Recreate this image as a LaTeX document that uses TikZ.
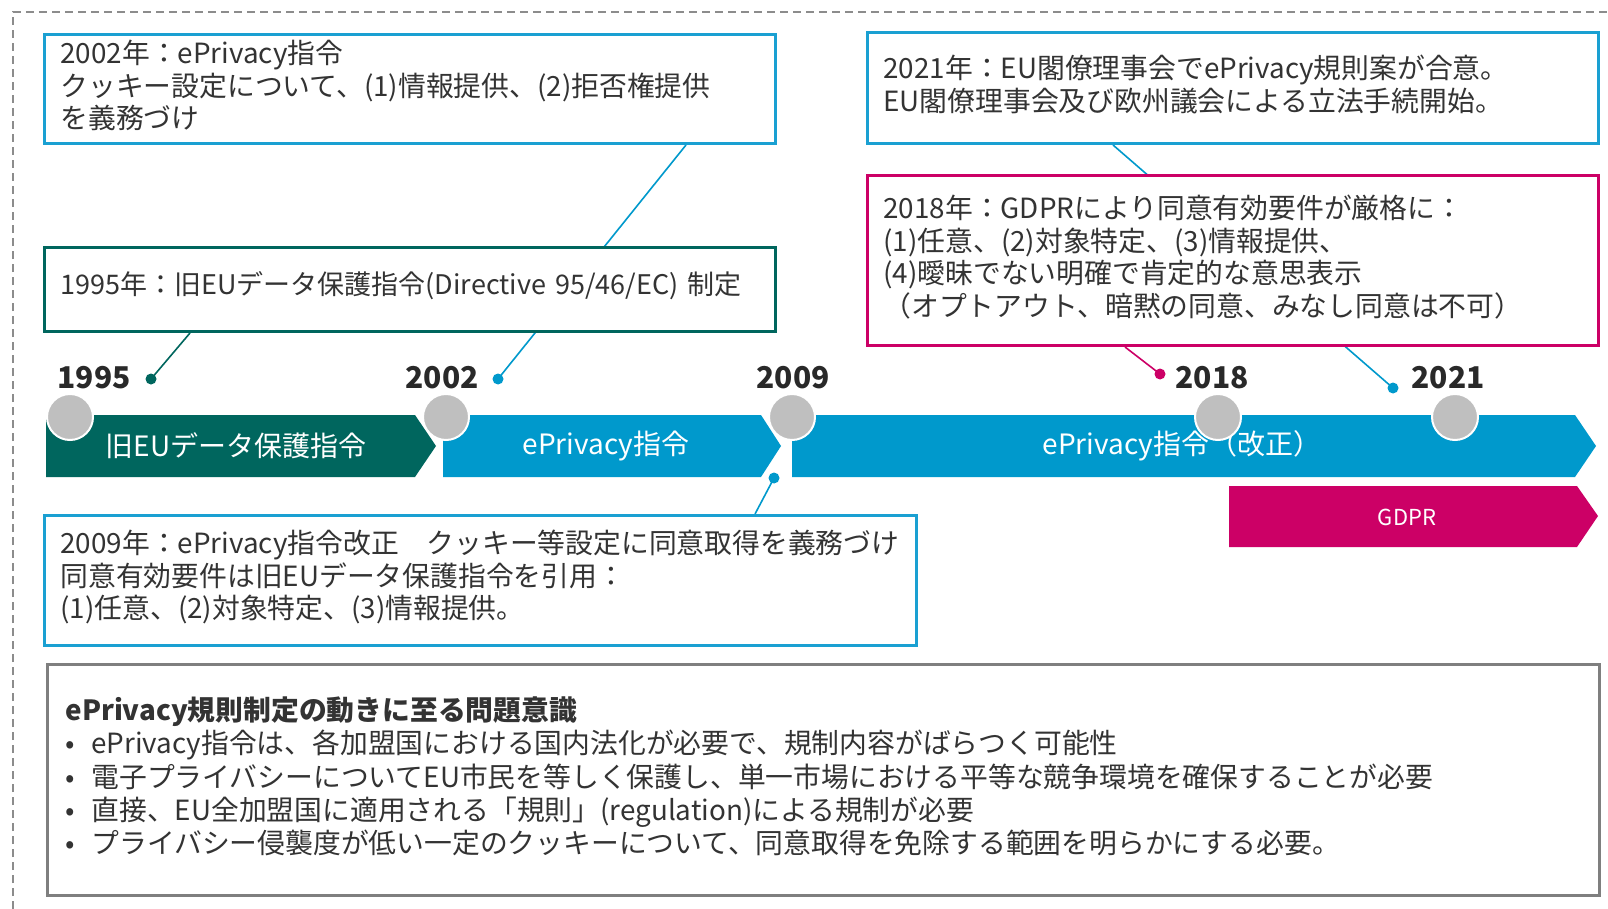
\documentclass[tikz,border=0pt]{standalone}
\usepackage{fontspec}
\setmainfont{Noto Sans CJK JP}
\usetikzlibrary{calc}
\definecolor{tealc}{HTML}{00665E}
\definecolor{bluec}{HTML}{0099CC}
\definecolor{blueb}{HTML}{1AA0D2}
\definecolor{magc}{HTML}{CC0066}
\definecolor{circc}{HTML}{BFBFBF}
\definecolor{txtc}{HTML}{333333}
\definecolor{framec}{HTML}{8C8C8C}
\definecolor{boxgray}{HTML}{7F7F7F}
\newcommand{\liftup}{\par\vspace*{7pt}}
\pgfdeclarelayer{bg}
\pgfdeclarelayer{bgbottom}
\pgfsetlayers{bgbottom,bg,main}
\begin{document}
\begin{tikzpicture}[x=1pt,y=-1pt,
  infobox/.style={draw, line width=3pt, fill=white, text=txtc,
    font=\fontsize{27.8}{32.5}\selectfont, align=left, inner xsep=16pt, inner ysep=0pt,
    anchor=north west},
  conn/.style={line width=1.6pt},
  tdot/.style={circle, inner sep=0pt, minimum size=11pt},
  tcirc/.style={circle, inner sep=0pt, minimum size=46pt, fill=circc, draw=white, line width=2pt},
  year/.style={font=\bfseries\fontsize{30}{30}\selectfont, text=txtc!80!black},
  arrlabel/.style={font=\fontsize{28}{28}\selectfont, text=white},
]
\useasboundingbox (0,0) rectangle (1608,909);
\begin{pgfonlayer}{bgbottom}
\fill[white] (0,0) rectangle (1608,909);
\end{pgfonlayer}
% dashed frame
\draw[framec, line width=2pt, dash pattern=on 8pt off 5pt] (13,909) -- (13,12) -- (1608,12);

% info boxes
\node[infobox, draw=blueb, minimum width=731pt, minimum height=109pt, text width=699pt] (boxA) at (43,33)
  {2002年：ePrivacy指令\\クッキー設定について、(1)情報提供、(2)拒否権提供\\を義務づけ\liftup};
\node[infobox, draw=tealc, minimum width=731pt, minimum height=84pt, text width=699pt,
  font=\fontsize{27}{32.5}\selectfont] (boxB) at (43,246)
  {1995年：旧EUデータ保護指令(Directive 95/46/EC) 制定\liftup};
\node[infobox, draw=blueb, minimum width=872pt, minimum height=130pt, text width=840pt] (boxC) at (43,514)
  {2009年：ePrivacy指令改正　クッキー等設定に同意取得を義務づけ\\同意有効要件は旧EUデータ保護指令を引用：\\(1)任意、(2)対象特定、(3)情報提供。\liftup};
\node[infobox, draw=blueb, minimum width=731pt, minimum height=111pt, text width=699pt] (boxD) at (866,31)
  {2021年：EU閣僚理事会でePrivacy規則案が合意。\\EU閣僚理事会及び欧州議会による立法手続開始。\liftup};
\node[infobox, draw=magc, minimum width=731pt, minimum height=170pt, text width=699pt] (boxE) at (866,174)
  {2018年：GDPRにより同意有効要件が厳格に：\\(1)任意、(2)対象特定、(3)情報提供、\\(4)曖昧でない明確で肯定的な意思表示\\（オプトアウト、暗黙の同意、みなし同意は不可）\liftup};

% timeline arrows
\fill[tealc] (46,415) -- (415,415) -- (436,446) -- (415,477) -- (46,477) -- cycle;
\fill[bluec] (443,415) -- (761,415) -- (781,446) -- (761,477) -- (443,477) -- cycle;
\fill[bluec] (792,415) -- (1575,415) -- (1596,446) -- (1575,477) -- (792,477) -- cycle;
\fill[magc] (1229,486) -- (1577,486) -- (1598,516) -- (1577,547) -- (1229,547) -- cycle;
\node[arrlabel] (l1) at (236,446) {旧EUデータ保護指令};
\node[arrlabel] (l2) at (606,446) {ePrivacy指令};
\node[arrlabel] (l3) at (1182,446) {ePrivacy指令（改正）};
\node[arrlabel, font=\fontsize{22}{22}\selectfont] (l4) at (1407,517) {GDPR};

% circles
\node[tcirc] (c1995) at (70,417) {};
\node[tcirc] (c2002) at (446,417) {};
\node[tcirc] (c2009) at (792,417) {};
\node[tcirc] (c2018) at (1218,417) {};
\node[tcirc] (c2021) at (1455,417) {};

% years
\node[year] (y1995) at (94,378) {1995};
\node[year] (y2002) at (442,378) {2002};
\node[year] (y2009) at (793,378) {2009};
\node[year] (y2018) at (1212,378) {2018};
\node[year] (y2021) at (1448,378) {2021};

% dots
\node[tdot, fill=tealc] (d1995) at (151,379) {};
\node[tdot, fill=bluec] (d2002) at (498,379) {};
\node[tdot, fill=bluec] (d2009) at (774,478) {};
\node[tdot, fill=magc] (d2018) at (1160,374) {};
\node[tdot, fill=bluec] (d2021) at (1393,388) {};

% connectors (behind boxes)
\coordinate (pA) at ($(boxA.south west)+(643,0)$);
\coordinate (pB) at ($(boxB.south west)+(147,0)$);
\coordinate (pC) at ($(boxC.north west)+(712,0)$);
\coordinate (pD) at ($(boxD.south west)+(247,0)$);
\coordinate (pE) at ($(boxE.south west)+(259,0)$);
\begin{pgfonlayer}{bg}
\draw[conn, bluec] (pA) -- (d2002.center);
\draw[conn, tealc] (pB) -- (d1995.center);
\draw[conn, bluec] (d2009.center) -- (pC);
\draw[conn, bluec] (pD) -- (d2021.center);
\draw[conn, magc] (pE) -- (d2018.center);
\end{pgfonlayer}

% bottom box
\node[draw=boxgray, line width=3pt, anchor=north west, minimum width=1552pt, minimum height=231pt,
  text width=1516pt, inner xsep=18pt, inner ysep=0pt, align=left, text=txtc,
  font=\fontsize{27.8}{33.2}\selectfont] (boxF) at (46,663)
  {{\bfseries ePrivacy規則制定の動きに至る問題意識}\\
   \makebox[26pt][l]{•}ePrivacy指令は、各加盟国における国内法化が必要で、規制内容がばらつく可能性\\
   \makebox[26pt][l]{•}電子プライバシーについてEU市民を等しく保護し、単一市場における平等な競争環境を確保することが必要\\
   \makebox[26pt][l]{•}直接、EU全加盟国に適用される「規則」(regulation)による規制が必要\\
   \makebox[26pt][l]{•}プライバシー侵襲度が低い一定のクッキーについて、同意取得を免除する範囲を明らかにする必要。\liftup};
\end{tikzpicture}
\end{document}
